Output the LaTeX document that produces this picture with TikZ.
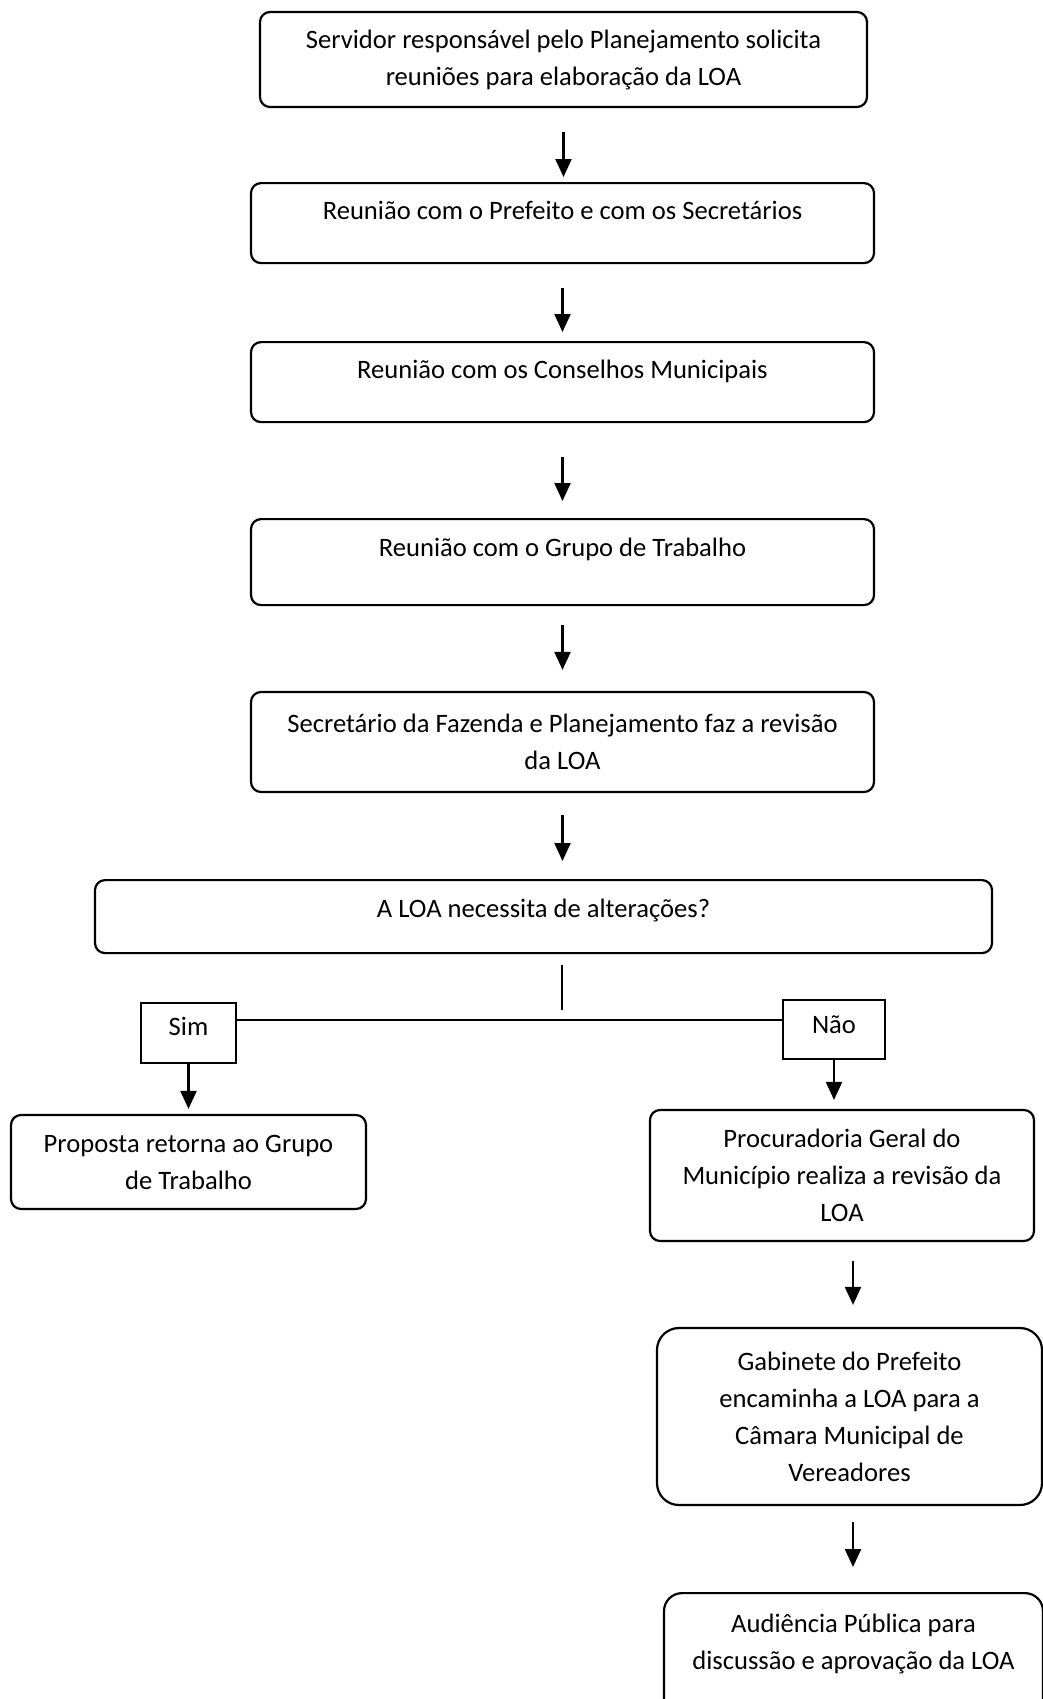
\documentclass[tikz,border=0pt]{standalone}
\usepackage{fontspec}
\setmainfont{Carlito}
\usepackage{tikz}
\usetikzlibrary{arrows.meta, positioning}
\newcommand{\textoetapa}{\fontsize{13.3}{18.5}\selectfont}

\begin{document}
\begin{tikzpicture}[x=0.5pt, y=-0.5pt,
    etapa/.style={draw, line width=1.1pt, rounded corners=5pt, align=center, inner sep=0pt, font=\textoetapa},
    resposta/.style={draw, line width=1.1pt, inner sep=0pt, anchor=north, font=\textoetapa},
    seta/.style={line width=1.1pt, -{Triangle[length=9pt, width=8pt]}},
    fio/.style={line width=0.6pt}]
        \useasboundingbox (0,0) rectangle (1043,1699);

        % Main sequence
        \node[etapa, minimum width=303.5pt, minimum height=47.5pt] (servidor) at (563.5,59.5) {Servidor responsável pelo Planejamento solicita\\reuniões para elaboração da LOA};
        \node[etapa, anchor=north, minimum width=311.5pt, text height=18pt, text depth=22pt] (prefeito) at (562.5,182) {Reunião com o Prefeito e com os Secretários};
        \node[etapa, anchor=north, minimum width=311.5pt, text height=18pt, text depth=22pt] (conselhos) at (562.5,341) {Reunião com os Conselhos Municipais};
        \node[etapa, anchor=north, minimum width=311.5pt, text height=18.5pt, text depth=24.5pt] (grupo) at (562.5,518) {Reunião com o Grupo de Trabalho};
        \node[etapa, minimum width=311.5pt, minimum height=50pt] (fazenda) at (562.5,742) {Secretário da Fazenda e Planejamento faz a revisão\\da LOA};
        \node[etapa, anchor=north, minimum width=448.5pt, text height=18.5pt, text depth=18pt] (decisao) at (543.5,879) {A LOA necessita de alterações?};

        \draw[seta, shorten <=12pt, shorten >=2.5pt] (servidor.south) -- (servidor.south |- prefeito.north);
        \draw[seta, shorten <=12pt, shorten >=4.5pt] (prefeito.south) -- (prefeito.south |- conselhos.north);
        \draw[seta, shorten <=17pt, shorten >=8.5pt] (conselhos.south) -- (conselhos.south |- grupo.north);
        \draw[seta, shorten <=9.5pt, shorten >=10.5pt] (grupo.south) -- (grupo.south |- fazenda.north);
        \draw[seta, shorten <=11pt, shorten >=9pt] (fazenda.south) -- (fazenda.south |- decisao.north);

        % Decision branches
        \coordinate (ramo) at (562,1010);
        \coordinate (barra) at (562,1020);
        \node[resposta, minimum width=47.5pt, text height=16pt, text depth=14pt] (sim) at (188.5,1002) {Sim};
        \node[resposta, minimum width=51pt, text height=16.5pt, text depth=13pt] (nao) at (834,999) {Não};
        \draw[fio, shorten <=5.5pt] (ramo |- decisao.south) -- (ramo);
        \draw[line width=1.1pt] (sim.east |- barra) -- (nao.west |- barra);

        % Sim side
        \node[etapa, minimum width=177.5pt, minimum height=47pt] (proposta) at (188.5,1162) {Proposta retorna ao Grupo\\de Trabalho};
        \draw[seta, shorten >=2.5pt] (sim.south) -- (sim.south |- proposta.north);

        % Nao side
        \coordinate (eixo) at (853,0);
        \node[etapa, minimum width=192pt, minimum height=65.5pt] (procuradoria) at (842,1175.5) {Procuradoria Geral do\\Município realiza a revisão da\\LOA};
        \node[etapa, rounded corners=11pt, minimum width=192.5pt, minimum height=88.5pt] (gabinete) at (849.5,1416.5) {Gabinete do Prefeito\\encaminha a LOA para a\\Câmara Municipal de\\Vereadores};
        \node[etapa, rounded corners=9pt, anchor=north, minimum width=189.5pt, text depth=40pt, inner ysep=10.5pt] (audiencia) at (853.5,1592) {Audiência Pública para\\discussão e aprovação da LOA};

        \draw[seta, shorten >=4.5pt] (nao.south) -- (nao.south |- procuradoria.north);
        \draw[seta, shorten <=9.5pt, shorten >=11pt] (eixo |- procuradoria.south) -- (eixo |- gabinete.north);
        \draw[seta, shorten <=8pt, shorten >=12.5pt] (eixo |- gabinete.south) -- (eixo |- audiencia.north);

    \end{tikzpicture}
\end{document}
